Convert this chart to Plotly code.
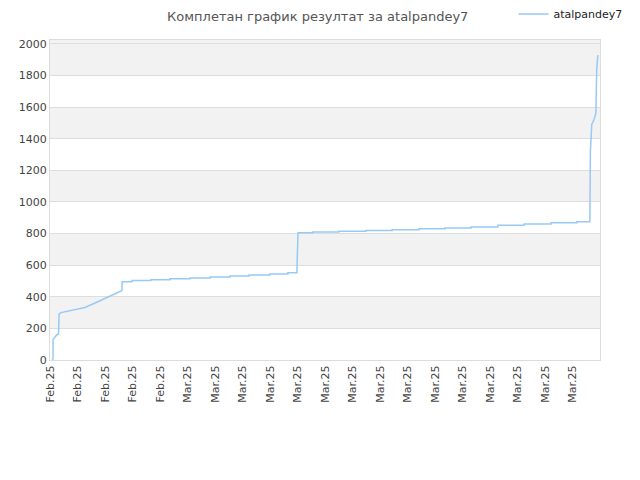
import plotly.graph_objects as go

title = "Комплетан график резултат за atalpandey7"
player = "atalpandey7"

# tick labels along the x axis (one per tick position 0..19)
tick_labels = ["Feb.25"] * 5 + ["Mar.25"] * 15

# score progression: position (in tick units) and cumulative score
pos = [0.09, 0.11, 0.11, 0.25, 0.31, 0.31, 0.33, 0.40, 1.02, 1.27,
       1.78, 2.55, 2.62, 2.62, 2.98, 2.98, 3.67, 3.67, 4.36, 4.36,
       5.09, 5.09, 5.82, 5.82, 6.55, 6.55, 7.24, 7.24, 8.00, 8.00,
       8.65, 8.65, 8.98, 8.99, 9.02, 9.56, 9.56, 10.50, 10.50, 11.49,
       11.49, 12.44, 12.44, 13.42, 13.42, 14.36, 14.36, 15.31, 15.31, 16.29,
       16.29, 17.24, 17.24, 18.22, 18.22, 19.16, 19.16, 19.63, 19.64, 19.65,
       19.70, 19.78, 19.85, 19.88, 19.92]
score = [0, 10, 130, 160, 165, 255, 290, 300, 322, 332,
         372, 430, 440, 495, 495, 503, 503, 508, 508, 514,
         514, 519, 519, 525, 525, 532, 532, 538, 538, 545,
         545, 552, 552, 645, 806, 806, 810, 810, 815, 815,
         820, 820, 825, 825, 830, 830, 836, 836, 842, 842,
         853, 853, 860, 860, 868, 868, 875, 875, 1050, 1318,
         1490, 1520, 1560, 1835, 1930]

y_max = 2025
band_lo = [200, 600, 1000, 1400, 1800, 2000]

fig = go.Figure()

fig.add_trace(
    go.Scatter(
        x=pos,
        y=score,
        name=player,
        mode="lines",
        line=dict(color="#99c9f5", width=1.5),
    )
)

# alternating gray bands
for lo in band_lo:
    fig.add_shape(
        type="rect", xref="paper", yref="y",
        x0=0, x1=1, y0=lo, y1=min(lo + 200, y_max),
        fillcolor="#f2f2f2", line=dict(width=0), layer="below",
    )

# the page has an 8px body margin, so margins are shifted to compensate
fig.update_layout(
    width=640,
    height=480,
    margin=dict(l=42, r=48, t=32, b=128, autoexpand=False),
    paper_bgcolor="white",
    plot_bgcolor="white",
    font=dict(family="DejaVu Sans", size=11, color="#444444"),
    title=dict(
        text=title,
        x=0.484, xanchor="center",
        y=0.983, yanchor="middle",
        font=dict(size=13, color="#555555"),
    ),
    showlegend=True,
    legend=dict(
        x=1.05, xanchor="right",
        y=1.081, yanchor="middle",
        bgcolor="rgba(0,0,0,0)",
        font=dict(size=11, color="#222222"),
        itemwidth=30,
    ),
    xaxis=dict(
        range=[0, 20],
        tickmode="array",
        tickvals=list(range(len(tick_labels))),
        ticktext=tick_labels,
        tickangle=-90,
        showgrid=False,
        zeroline=False,
        showline=True,
        linecolor="#dcdcdc",
        mirror=True,
        ticks="",
        tickfont=dict(size=11, color="#444444"),
    ),
    yaxis=dict(
        range=[0, y_max],
        tickvals=list(range(0, 2001, 200)),
        showgrid=True,
        gridcolor="#dddddd",
        zeroline=False,
        showline=True,
        linecolor="#dcdcdc",
        mirror=True,
        ticks="",
        tickfont=dict(size=11, color="#444444"),
    ),
)

fig.write_html("out.html")
